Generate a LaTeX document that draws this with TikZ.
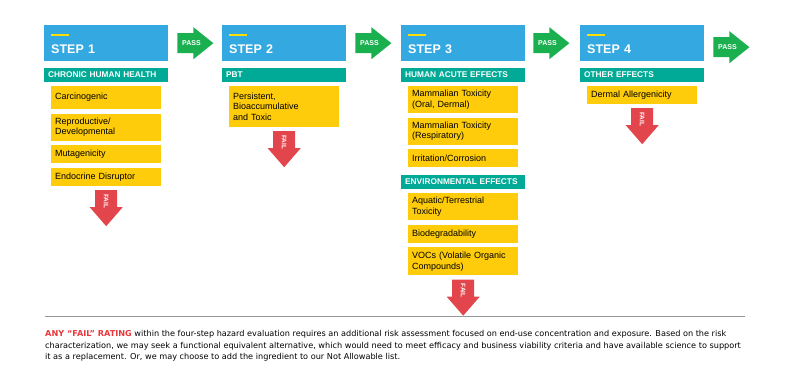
\documentclass[tikz,border=0pt]{standalone}
\usepackage{fontspec}
\setmainfont{Liberation Sans}
\newfontfamily\notefont{DejaVu Sans}
\usetikzlibrary{positioning}
\definecolor{stepblue}{RGB}{52,168,224}
\definecolor{catteal}{RGB}{0,170,150}
\definecolor{itemyellow}{RGB}{254,204,10}
\definecolor{accentyellow}{RGB}{255,221,0}
\definecolor{passgreen}{RGB}{26,176,80}
\definecolor{failred}{RGB}{226,70,76}
\definecolor{notered}{RGB}{232,56,60}
\definecolor{rulegray}{RGB}{150,150,150}

\begin{document}
\begin{tikzpicture}[x=1pt,y=-1pt,node distance=4.3pt,
stepbox/.style={fill=stepblue,anchor=north west,text=white,minimum width=124pt,text width=110pt,inner xsep=7pt,inner ysep=8pt,text height=20pt,text depth=0pt,align=left,font=\fontsize{12.5}{12.5}\selectfont\bfseries},
cat/.style={fill=catteal,anchor=north west,text=white,minimum width=124pt,text width=116pt,inner xsep=4pt,inner ysep=2pt,minimum height=14pt,align=left,font=\fontsize{8.3}{9}\selectfont\bfseries},
item/.style={fill=itemyellow,text width=102pt,inner xsep=4pt,inner ysep=4pt,minimum height=18pt,align=left,font=\fontsize{9}{10.5}\selectfont},
passtxt/.style={text=white,inner sep=0pt,font=\fontsize{7}{7}\selectfont\bfseries},
failtxt/.style={text=white,inner sep=0pt,rotate=-90,font=\fontsize{6.5}{6.5}\selectfont\bfseries},
note/.style={anchor=north west,align=left,inner sep=0pt,font=\notefont\fontsize{8.15}{11.7}\selectfont}]
\useasboundingbox (0,0) rectangle (792,383);

% step headers
\node[stepbox] (s1) at (44,25) {STEP 1};
\node[stepbox] (s2) at (222,25) {STEP 2};
\node[stepbox] (s3) at (401,25) {STEP 3};
\node[stepbox] (s4) at (580,25) {STEP 4};
\foreach \s in {s1,s2,s3,s4}
  \draw[accentyellow,line width=1.2pt] ([xshift=7pt,yshift=-10pt]\s.north west) -- ++(18,0);

% step 1
\node[cat] (c1) at ([yshift=-6pt]s1.south west) {CHRONIC HUMAN HEALTH};
\node[item,anchor=north west,minimum height=23pt] (a1) at ([xshift=7pt,yshift=-4pt]c1.south west) {Carcinogenic};
\node[item,below=of a1] (a2) {Reproductive/\\Developmental};
\node[item,below=of a2] (a3) {Mutagenicity};
\node[item,below=of a3] (a4) {Endocrine Disruptor};

% step 2
\node[cat] (c2) at ([yshift=-6pt]s2.south west) {PBT};
\node[item,anchor=north west,minimum height=41pt] (b1) at ([xshift=7pt,yshift=-4pt]c2.south west) {Persistent,\\Bioaccumulative\\and Toxic};

% step 3
\node[cat] (c3) at ([yshift=-6pt]s3.south west) {HUMAN ACUTE EFFECTS};
\node[item,anchor=north west,minimum height=27pt] (d1) at ([xshift=7pt,yshift=-4pt]c3.south west) {Mammalian Toxicity\\(Oral, Dermal)};
\node[item,below=of d1,minimum height=26pt] (d2) {Mammalian Toxicity\\(Respiratory)};
\node[item,below=of d2] (d3) {Irritation/Corrosion};
\coordinate (e0) at (d3.south -| s3.west);
\node[cat] (c5) at ([yshift=-7pt]e0) {ENVIRONMENTAL EFFECTS};
\node[item,anchor=north west,minimum height=27pt] (d4) at ([xshift=7pt,yshift=-4pt]c5.south west) {Aquatic/Terrestrial\\Toxicity};
\node[item,below=of d4] (d5) {Biodegradability};
\node[item,below=of d5,minimum height=28pt] (d6) {VOCs (Volatile Organic\\Compounds)};

% step 4
\node[cat] (c4) at ([yshift=-6pt]s4.south west) {OTHER EFFECTS};
\node[item,anchor=north west] (g1) at ([xshift=7pt,yshift=-4pt]c4.south west) {Dermal Allergenicity};

% pass arrows
\coordinate (p1) at ([xshift=9pt]s1.east);
\coordinate (p2) at ([xshift=9pt]s2.east);
\coordinate (p3) at ([xshift=8pt]s3.east);
\coordinate (p4) at ([xshift=9pt,yshift=-4pt]s4.east);
\foreach \p in {p1,p2,p3,p4}{
  \fill[passgreen] (\p) ++(0,-10) -- ++(16,0) -- ++(0,-6) -- ++(20,16) -- ++(-20,16) -- ++(0,-6) -- ++(-16,0) -- cycle;
  \node[passtxt] (\p t) at ([xshift=14pt]\p) {PASS};
}

% fail arrows
\coordinate (f1) at (a4.south -| s1.south);
\coordinate (f2) at (b1.south -| s2.south);
\coordinate (f3) at (d6.south -| s3.south);
\coordinate (f4) at (g1.south -| s4.south);
\foreach \f in {f1,f2,f3,f4}{
  \fill[failred] ([yshift=-4pt]\f) ++(-11,0) -- ++(22,0) -- ++(0,17) -- ++(5.5,0) -- ++(-16.5,19) -- ++(-16.5,-19) -- ++(5.5,0) -- cycle;
  \node[failtxt] (\f t) at ([yshift=-15pt]\f) {FAIL};
}

% note
\draw[rulegray,line width=0.8pt] (45,316) -- (745,316);
\node[note] (note) at (45,330) {{\color{notered}\bfseries ANY “FAIL” RATING} within the four-step hazard evaluation requires an additional risk assessment focused on end-use concentration and exposure. Based on the risk\\
characterization, we may seek a functional equivalent alternative, which would need to meet efficacy and business viability criteria and have available science to support\\
it as a replacement. Or, we may choose to add the ingredient to our Not Allowable list.};
\end{tikzpicture}
\end{document}
